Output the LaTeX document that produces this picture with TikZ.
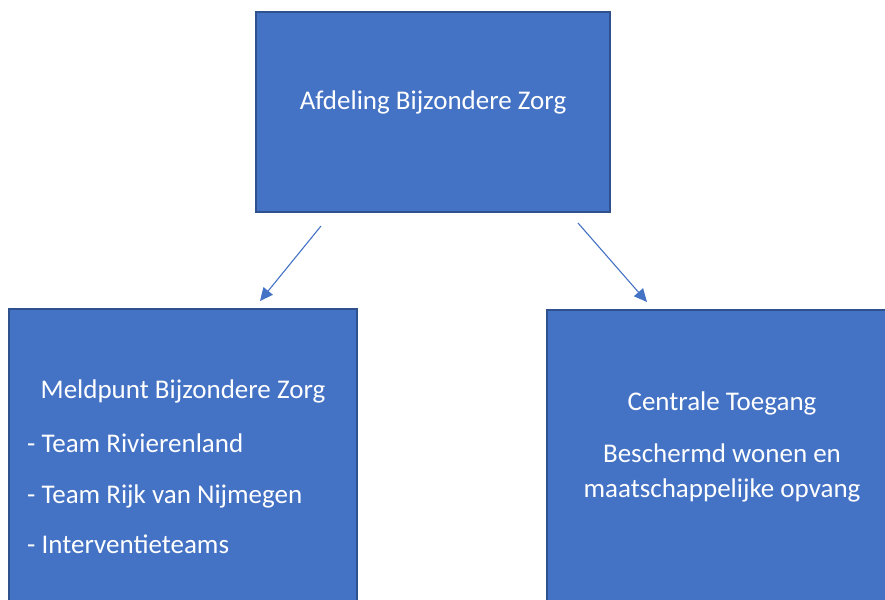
\documentclass[tikz,border=0pt]{standalone}
\usepackage{fontspec}
\setmainfont{Carlito}
\usetikzlibrary{positioning}
\usetikzlibrary{arrows.meta}
\definecolor{boxfill}{HTML}{4472C4}
\definecolor{boxline}{HTML}{2F528F}
\definecolor{arrowblue}{HTML}{4472C4}

\begin{document}
\begin{tikzpicture}[
    x=1pt, y=-1pt,
    orgbox/.style={draw=boxline,fill=boxfill,line width=2pt,inner sep=0pt},
    label/.style={text=white,font=\fontsize{27}{32}\selectfont,inner sep=0pt,anchor=base},
    item/.style={label,anchor=base west},
    link/.style={draw=arrowblue,line width=1.1pt,-{Triangle[length=13pt,width=12pt]}}
    ]

    \useasboundingbox (0,0) rectangle (885,599);
    \clip (0,0) rectangle (885,599);

    \node[orgbox, minimum width=354pt, minimum height=200pt] (afd) at (433,112) {};
    \node[orgbox, minimum width=348pt, minimum height=340pt] (meld) at (183,479) {};
    \node[orgbox, minimum width=350pt, minimum height=340pt] (ct) at (722,480) {};

    \node[label] (afdtitle) at (433,110) {Afdeling Bijzondere Zorg};

    \node[label] (meldtitle) at (183,398) {Meldpunt Bijzondere Zorg};
    \node[item] (riv) at (27,452) {- Team Rivierenland};
    \node[item] (rvn) at (27,503) {- Team Rijk van Nijmegen};
    \node[item] (int) at (27,553) {- Interventieteams};

    \node[label] (cttitle) at (722,410) {Centrale Toegang};
    \node[label] (bw) at (722,462) {Beschermd wonen en};
    \node[label] (mo) at (722,497) {maatschappelijke opvang};

    \path ([xshift=-112pt,yshift=-13pt]afd.south) edge[link] ([xshift=77pt,yshift=7pt]meld.north)
    ([xshift=145pt,yshift=-10pt]afd.south) edge[link] ([xshift=-75pt,yshift=7pt]ct.north)
    ;

\end{tikzpicture}
\end{document}
